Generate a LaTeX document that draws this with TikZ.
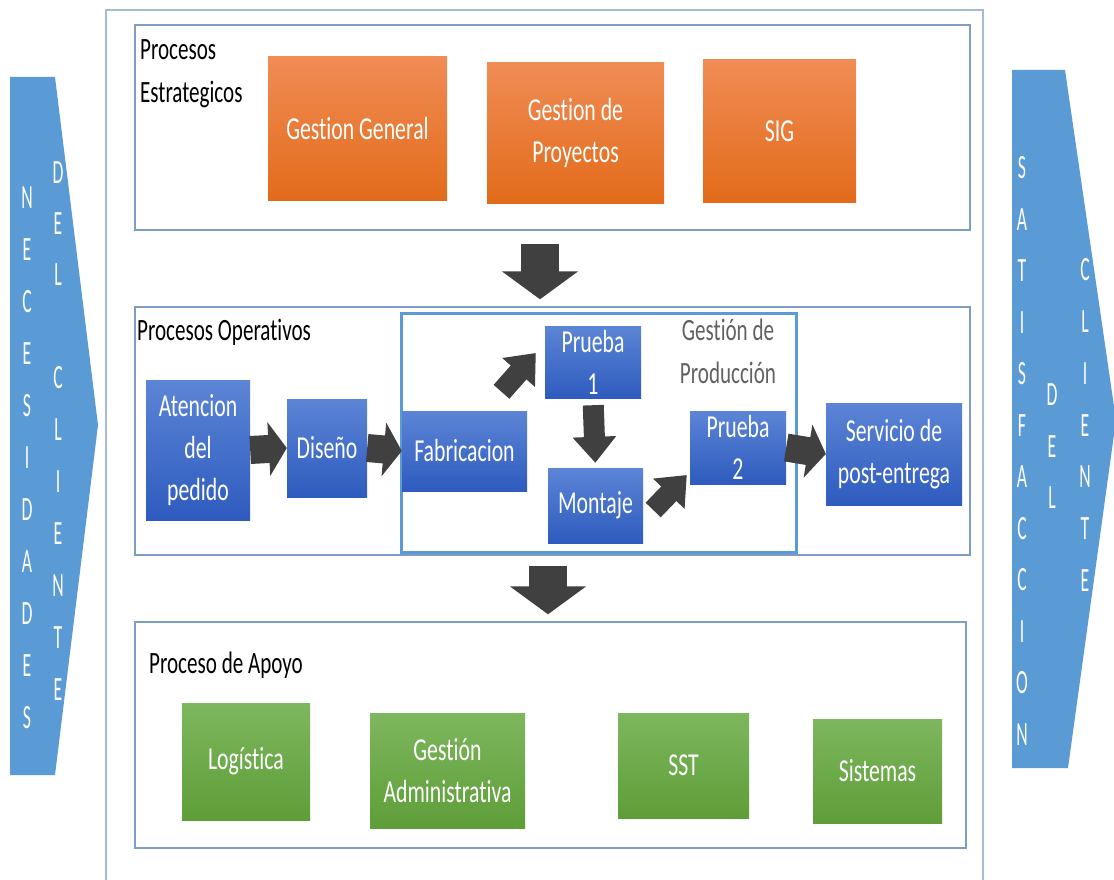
\documentclass[tikz,border=0pt]{standalone}
\usepackage{fontspec}
\setmainfont{Carlito}[FakeStretch=0.68, Ligatures=NoCommon]
\newfontfamily\sidefont{Carlito}[FakeStretch=0.52, Ligatures=NoCommon]
\usetikzlibrary{arrows.meta,calc}

\definecolor{sideblue}{HTML}{5B9BD5}
\definecolor{lineblue}{HTML}{7F9CC2}
\definecolor{prodblue}{HTML}{5B9BD5}
\definecolor{orgtop}{HTML}{F08C55}
\definecolor{orgbot}{HTML}{E26B1A}
\definecolor{blutop}{HTML}{5C85D6}
\definecolor{blubot}{HTML}{2E5BBE}
\definecolor{grntop}{HTML}{7DB75E}
\definecolor{grnbot}{HTML}{5E9E38}
\definecolor{arrowgray}{HTML}{404040}

\begin{document}
\begin{tikzpicture}[
                x=1pt, y=-1pt,
                frame/.style={draw=lineblue, line width=1.4pt, inner sep=0pt},
                box/.style={inner sep=0pt, text=white, align=center,
                    font=\fontsize{32}{42}\selectfont},
                ora/.style={box, top color=orgtop, bottom color=orgbot},
                blu/.style={box, top color=blutop, bottom color=blubot},
                grn/.style={box, top color=grntop, bottom color=grnbot},
                lbl/.style={inner sep=0pt, align=left, font=\fontsize{31}{43}\selectfont},
                let/.style={inner sep=0pt, text=white, font=\sidefont\fontsize{34}{34}\selectfont},
                fat/.style={draw=arrowgray, line width=28pt, -{Triangle[width=53pt,length=18pt]}},
                slim/.style={draw=arrowgray, line width=21pt, -{Triangle[width=42pt,length=26pt]}},
                down/.style={draw=arrowgray, line width=38pt, -{Triangle[width=75pt,length=28pt]}}
            ]
                \useasboundingbox[fill=white] (0,0) rectangle (1114,880);

                % lados: necesidades y satisfaccion
                \fill[sideblue] (10,77) -- (55,77) -- (98,425) -- (55,775) -- (10,775) -- cycle;
                \fill[sideblue] (1012,70) -- (1065,70) -- (1116,420) -- (1068,768) -- (1012,768) -- cycle;
                \foreach \l [count=\i] in {N,E,C,E,S,I,D,A,D,E,S}
                    \node[let] (nec\i) at (27,198+52*\i-52) {\l};
                \foreach \l [count=\i] in {D,E,L}
                    \node[let] (ndel\i) at (58,173+51*\i-51) {\l};
                \foreach \l [count=\i] in {C,L,I,E,N,T,E}
                    \node[let] (ncli\i) at (58,378+52*\i-52) {\l};
                \foreach \l [count=\i] in {S,A,T,I,S,F,A,C,C,I,O,N}
                    \node[let] (sat\i) at (1022,168+51.5*\i-51.5) {\l};
                \foreach \l [count=\i] in {D,E,L}
                    \node[let] (sdel\i) at (1052,395+51.5*\i-51.5) {\l};
                \foreach \l [count=\i] in {C,L,I,E,N,T,E}
                    \node[let] (scli\i) at (1085,270+51.7*\i-51.7) {\l};

                % marcos
                \draw[draw=lineblue!70, line width=1.2pt] (106,900) -- (106,10) -- (983,10) -- (983,900);
                \node[frame, minimum width=835pt, minimum height=205pt] (estr) at (552.5,127.5) {};
                \node[frame, minimum width=835pt, minimum height=248pt] (oper) at (552.5,431) {};
                \node[frame, minimum width=831pt, minimum height=226pt] (apoyo) at (550.5,735) {};
                \node[frame, draw=prodblue, line width=3pt, minimum width=395pt, minimum height=239pt] (prod) at (598.5,432.5) {};

                % titulos
                \node[lbl, anchor=west] (testr) at (140,73.5) {Procesos\\Estrategicos};
                \node[lbl, anchor=west] (toper) at (137,332) {Procesos Operativos};
                \node[lbl, anchor=west] (tapoyo) at (149,665) {Proceso de Apoyo};
                \node[lbl, align=center, text=black!62] (tprod) at (728,351) {Gestión de\\Producción};

                % estrategicos
                \node[ora, minimum width=179pt, minimum height=143pt] (gg) at (357.5,128.5) {Gestion General};
                \node[ora, minimum width=177pt, minimum height=140pt] (gp) at (575.5,133) {Gestion de\\Proyectos};
                \node[ora, minimum width=153pt, minimum height=142pt] (sig) at (779.5,131) {SIG};

                % operativos
                \node[blu, minimum width=104pt, minimum height=140pt] (aten) at (198,450) {Atencion\\del\\pedido};
                \node[blu, minimum width=80pt, minimum height=98pt] (dis) at (327,448) {Diseño};
                \node[blu, minimum width=125pt, minimum height=80pt] (fab) at (464.5,451) {Fabricacion};
                \node[blu, minimum width=96pt, minimum height=72pt] (p1) at (593,362) {Prueba\\1};
                \node[blu, minimum width=95pt, minimum height=75pt] (mon) at (595.5,505.5) {Montaje};
                \node[blu, minimum width=96pt, minimum height=73pt] (p2) at (738,447.5) {Prueba\\2};
                \node[blu, minimum width=136pt, minimum height=102pt] (serv) at (894,454) {Servicio de\\post-entrega};

                % apoyo
                \node[grn, minimum width=128pt, minimum height=117pt] (log) at (246,761.5) {Logística};
                \node[grn, minimum width=155pt, minimum height=115pt] (adm) at (447.5,770.5) {Gestión\\Administrativa};
                \node[grn, minimum width=131pt, minimum height=105pt] (sst) at (683.5,765.5) {SST};
                \node[grn, minimum width=129pt, minimum height=104pt] (sis) at (877.5,771) {Sistemas};

                % flechas
                \draw[down, shorten <=13pt, shorten >=7pt] ([xshift=-12.5pt]estr.south) -- ([xshift=-12.5pt]oper.north);
                \draw[down, shorten <=10pt, shorten >=7pt] ([xshift=-4.5pt]oper.south) -- ([xshift=-2.5pt]apoyo.north);
                \draw[fat] (aten.east) -- (dis.west);
                \draw[fat] (dis.east) -- (fab.west);
                \draw[slim] ([shift={(37,-19)}]fab.north) -- ([shift={(-9,-9)}]p1.west);
                \draw[slim, shorten <=7pt, shorten >=5pt] (p1.south) -- (mon.north);
                \draw[slim] ([shift={(10,4.5)}]mon.east) -- ([shift={(-3,27.5)}]p2.west);
                \draw[fat] (p2.east) -- (serv.west);
            \end{tikzpicture}
\end{document}
